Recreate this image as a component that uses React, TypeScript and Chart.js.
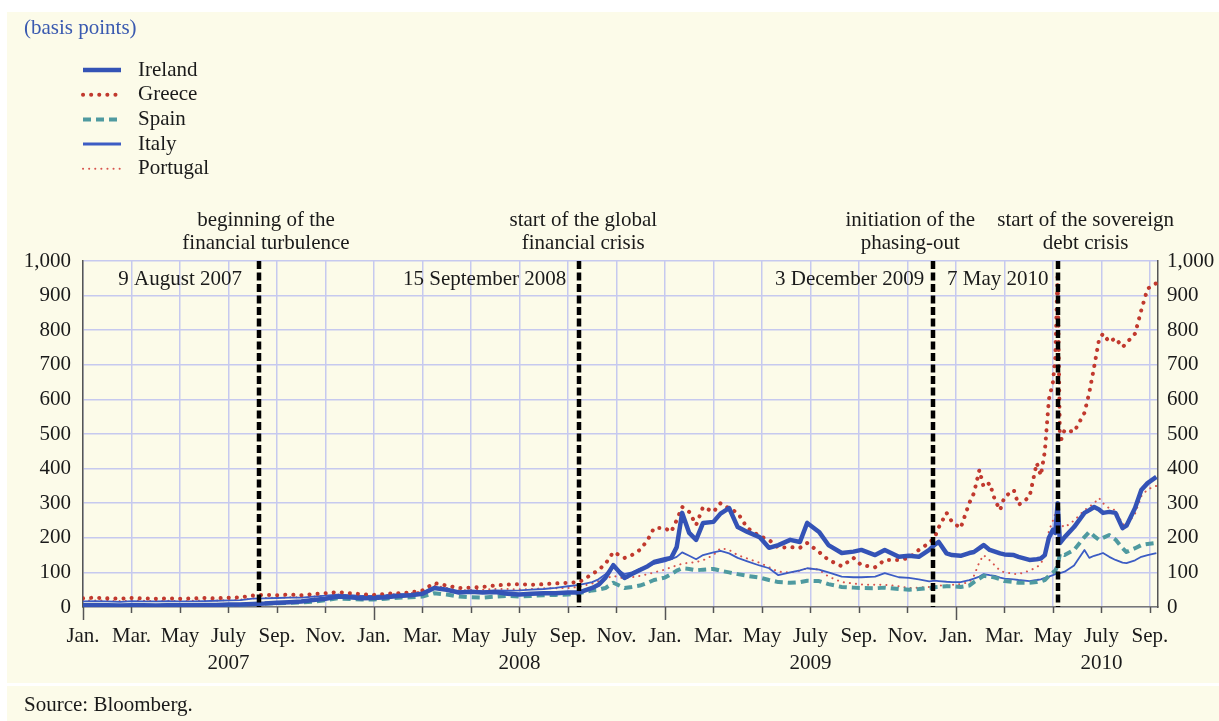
import React, { useEffect, useRef } from 'react';
import { Chart, registerables } from 'chart.js';

Chart.register(...registerables);

// ---------- DATA ----------
const dates = [
  '2007-01-01','2007-01-16','2007-02-01','2007-02-16','2007-03-01','2007-03-16','2007-04-01','2007-04-16',
  '2007-05-01','2007-05-16','2007-06-01','2007-06-16','2007-07-01','2007-07-16','2007-08-01','2007-08-16',
  '2007-09-01','2007-09-16','2007-10-01','2007-10-16','2007-11-01','2007-11-16','2007-12-01','2007-12-16',
  '2008-01-01','2008-01-16','2008-02-01','2008-02-16','2008-03-01','2008-03-16','2008-04-01','2008-04-16',
  '2008-05-01','2008-05-16','2008-06-01','2008-06-16','2008-07-01','2008-07-16','2008-08-01','2008-08-16',
  '2008-09-01','2008-09-15','2008-10-01','2008-10-09','2008-10-18','2008-10-28','2008-11-11','2008-11-20',
  '2008-11-30','2008-12-10','2008-12-18','2009-01-01','2009-01-09','2009-01-16','2009-01-23','2009-02-01',
  '2009-02-09','2009-02-17','2009-03-01','2009-03-10','2009-03-21','2009-04-01','2009-04-13','2009-04-28',
  '2009-05-10','2009-05-22','2009-06-06','2009-06-18','2009-06-27','2009-07-12','2009-07-24','2009-08-10',
  '2009-08-25','2009-09-04','2009-09-21','2009-10-03','2009-10-21','2009-11-03','2009-11-15','2009-11-28',
  '2009-12-05','2009-12-10','2009-12-20','2009-12-27','2010-01-07','2010-01-18','2010-01-24','2010-01-31',
  '2010-02-05','2010-02-12','2010-02-18','2010-02-24','2010-03-01','2010-03-13','2010-03-19','2010-04-02',
  '2010-04-11','2010-04-16','2010-04-21','2010-04-26','2010-05-01','2010-05-04','2010-05-07','2010-05-10',
  '2010-05-16','2010-05-28','2010-06-10','2010-06-16','2010-06-22','2010-06-28','2010-07-03','2010-07-11',
  '2010-07-19','2010-07-28','2010-08-02','2010-08-13','2010-08-21','2010-08-29','2010-09-09',
];

const ireland = [
  5,5,5,4,5,5,4,5, 5,5,6,6,7,7,9,10, 12,14,16,20,24,30,28,25,
  26,28,32,34,38,55,50,42, 44,42,43,38,36,38,40,40, 42,42,55,64,85,121,84,95,
  107,118,130,138,142,173,272,214, 194,243,246,270,286,231,217,202, 171,179,194,188,243,217,179,156,
  160,165,150,165,145,148,145,165, 180,188,155,150,148,156,159,170, 179,165,160,155,152,150,145,136,
  138,140,150,200,223,214,300,185, 202,231,272,280,289,282,272,275, 272,228,235,286,338,358,376,
];

const greece = [
  25,27,25,24,26,25,24,25, 24,25,26,25,27,28,33,35, 34,36,34,37,40,43,40,37,
  35,38,40,42,48,69,62,55, 56,58,62,65,66,64,66,68, 70,72,95,107,125,159,142,150,
  165,194,228,228,217,251,289,275, 237,289,275,300,285,272,228,205, 194,171,173,171,185,159,136,118,
  142,121,115,136,136,142,165,185, 202,230,272,246,228,300,329,396, 347,358,309,280,318,338,295,318,
  416,380,450,600,650,720,965,474, 512,506,561,620,694,772,790,766, 777,751,763,790,858,920,936,
];

const spain = [
  4,4,4,3,4,4,3,4, 4,4,5,5,6,6,8,10, 11,12,13,15,20,25,23,22,
  22,24,27,28,30,40,36,30, 28,27,30,32,30,32,34,35, 36,40,48,50,55,70,55,58,
  62,70,78,85,95,105,112,110, 106,108,110,105,100,95,90,85, 78,72,70,72,76,75,66,58,
  56,55,54,56,52,50,52,55, 57,58,60,60,58,62,72,82, 90,88,85,80,75,72,70,70,
  72,74,78,90,100,105,120,155, 150,165,202,217,205,194,200,208, 195,170,159,170,179,182,185,
];

const italy = [
  16,17,16,15,17,16,16,17, 16,16,17,18,19,20,24,25, 26,27,27,30,33,36,34,32,
  32,34,37,38,42,57,50,45, 46,45,48,47,48,50,52,55, 60,64,72,80,95,118,95,100,
  110,118,125,132,138,145,158,148, 138,150,158,162,155,142,132,120, 112,92,100,106,112,108,100,88,
  86,86,88,98,86,84,80,74, 76,75,73,72,72,78,82,88, 95,92,90,85,82,80,78,75,
  78,80,84,88,92,95,100,98, 102,120,165,142,148,152,156,145, 136,128,127,135,145,150,156,
];

const portugal = [
  18,19,18,17,19,18,17,18, 17,18,19,19,20,21,25,26, 27,28,28,30,33,36,34,32,
  32,34,38,40,45,62,55,48, 49,50,52,52,51,52,54,54, 55,58,68,75,82,90,82,86,
  90,95,100,108,115,120,125,128, 130,135,150,170,165,150,140,128, 115,102,100,105,112,108,88,72,
  68,65,64,64,60,55,56,58, 60,62,62,64,66,72,90,130, 150,135,120,105,100,96,95,105,
  115,125,150,220,250,270,300,240, 230,250,280,290,300,315,300,285, 280,240,235,270,320,340,350,
];

const seriesNames = ['Ireland', 'Greece', 'Spain', 'Italy', 'Portugal'];

const monthTickNames = ['Jan.', 'Mar.', 'May', 'July', 'Sep.', 'Nov.'];
const yearLabels = ['2007', '2008', '2009', '2010'];
const axisStart = '2007-01-01';
const axisEnd = '2010-09-11';

const eventDates = ['2007-08-09', '2008-09-15', '2009-12-03', '2010-05-07'];
const eventDateLabels = ['9 August 2007', '15 September 2008', '3 December 2009', '7 May 2010'];
const eventTitles = [
  ['beginning of the', 'financial turbulence'],
  ['start of the global', 'financial crisis'],
  ['initiation of the', 'phasing-out'],
  ['start of the sovereign', 'debt crisis'],
];

// ---------- STYLES ----------
const FONT = "'Liberation Serif', 'Times New Roman', serif";
const FS = 21;
const CREAM = '#fcfbe9';
const GRID = '#c6c9ef';
const TEXT = '#1a1a1a';
const eventTitleShift = [7, 4, -23, 28];
const eventLabelGap = [17, 13, 9, 9];

function toMonth(d: string): number {
  const [y, m, day] = d.split('-').map(Number);
  const dim = new Date(y, m, 0).getDate();
  return (y - 2007) * 12 + (m - 1) + (day - 1) / dim;
}

const seriesStyles = [
  { borderColor: '#3453b6', borderWidth: 4.5, borderDash: [], borderCapStyle: 'butt' },
  { borderColor: '#c1392e', borderWidth: 4, borderDash: [0.1, 8], borderCapStyle: 'round' },
  { borderColor: '#4f9aa0', borderWidth: 4, borderDash: [8, 5], borderCapStyle: 'butt' },
  { borderColor: '#3c5cc4', borderWidth: 1.8, borderDash: [], borderCapStyle: 'butt' },
  { borderColor: '#d8544e', borderWidth: 2, borderDash: [0.1, 6], borderCapStyle: 'round' },
];

const decorPlugin = {
  id: 'decor',
  beforeDraw(chart: any) {
    const ctx = chart.ctx;
    ctx.save();
    ctx.fillStyle = CREAM;
    ctx.fillRect(7, 12, 1212, 671);
    ctx.fillRect(7, 686, 1212, 35);
    ctx.restore();
  },
  afterDatasetsDraw(chart: any) {
    const ctx = chart.ctx;
    const x = chart.scales.x;
    const area = chart.chartArea;
    ctx.save();
    ctx.strokeStyle = '#000';
    ctx.lineWidth = 4.5;
    ctx.setLineDash([8, 3.5]);
    eventDates.forEach((d) => {
      const px = Math.round(x.getPixelForValue(toMonth(d)));
      ctx.beginPath();
      ctx.moveTo(px, area.top);
      ctx.lineTo(px, area.bottom);
      ctx.stroke();
    });
    ctx.restore();
  },
  afterDraw(chart: any) {
    const ctx = chart.ctx;
    const x = chart.scales.x;
    const area = chart.chartArea;
    ctx.save();
    // x tick marks
    ctx.strokeStyle = '#555';
    ctx.lineWidth = 1.5;
    for (let v = 0; v <= 44; v += 2) {
      const px = Math.round(x.getPixelForValue(v)) + 0.5;
      ctx.beginPath();
      ctx.moveTo(px, area.bottom);
      ctx.lineTo(px, area.bottom + (v % 12 === 0 ? 13 : 6));
      ctx.stroke();
    }
    // texts
    ctx.font = `${FS}px ${FONT}`;
    ctx.textBaseline = 'middle';
    ctx.fillStyle = '#3a5ab0';
    ctx.textAlign = 'left';
    ctx.fillText('(basis points)', 24, 28);
    ctx.fillStyle = TEXT;
    ctx.fillText('Source: Bloomberg.', 24, 705);

    // legend
    chart.data.datasets.forEach((ds: any, i: number) => {
      const y = 70 + i * 24.7;
      ctx.save();
      ctx.strokeStyle = ds.borderColor;
      ctx.lineWidth = i === 3 ? 3 : ds.borderWidth;
      ctx.setLineDash(ds.borderDash || []);
      ctx.lineCap = ds.borderCapStyle || 'butt';
      ctx.beginPath();
      ctx.moveTo(83, y);
      ctx.lineTo(121, y);
      ctx.stroke();
      ctx.restore();
      ctx.fillStyle = TEXT;
      ctx.textAlign = 'left';
      ctx.fillText(ds.label, 138, y);
    });

    // event annotations
    eventDates.forEach((d, i) => {
      const px = x.getPixelForValue(toMonth(d));
      ctx.textAlign = 'center';
      ctx.fillText(eventTitles[i][0], px + eventTitleShift[i], 220);
      ctx.fillText(eventTitles[i][1], px + eventTitleShift[i], 243);
      ctx.textAlign = 'right';
      ctx.fillText(eventDateLabels[i], px - eventLabelGap[i], 279);
    });
    ctx.restore();
  },
};

export default function App() {
  const ref = useRef<HTMLCanvasElement | null>(null);

  useEffect(() => {
    document.body.style.margin = '0';
    const canvas = ref.current;
    if (!canvas) return;
    const allSeries = [ireland, greece, spain, italy, portugal];
    const xs = dates.map(toMonth);
    const datasets = allSeries.map((vals, i) => ({
      label: seriesNames[i],
      data: vals.map((v, j) => ({ x: xs[j], y: v })),
      ...seriesStyles[i],
      borderJoinStyle: 'round',
      pointRadius: 0,
      tension: 0,
      fill: false,
    }));

    const tickFont = { family: FONT, size: FS, lineHeight: 1.3 };
    const chart = new Chart(canvas, {
      type: 'line',
      data: { datasets: datasets as any },
      options: {
        responsive: false,
        animation: false,
        events: [],
        layout: { padding: { top: 261, left: 0, right: 0, bottom: 0 } },
        plugins: { legend: { display: false }, title: { display: false }, tooltip: { enabled: false } },
        scales: {
          x: {
            type: 'linear',
            min: toMonth(axisStart),
            max: toMonth(axisEnd),
            afterBuildTicks: (s: any) => {
              const t = [];
              for (let v = 0; v <= 44; v += 2) t.push({ value: v });
              s.ticks = t;
            },
            afterFit: (s: any) => { s.height = 114; },
            grid: { color: GRID, lineWidth: 1.5, drawTicks: false },
            border: { color: '#777', width: 1.5 },
            ticks: {
              autoSkip: false,
              maxRotation: 0,
              minRotation: 0,
              padding: 16,
              color: TEXT,
              font: tickFont,
              callback: (v: any) => {
                const n = Number(v);
                const name = monthTickNames[(n % 12) / 2];
                if (n % 12 === 6) return [name, yearLabels[Math.floor(n / 12)]];
                return name;
              },
            },
          },
          y: {
            position: 'left',
            min: 0,
            max: 1000,
            afterFit: (s: any) => { s.width = 83; },
            grid: { color: GRID, lineWidth: 1.5, drawTicks: false },
            border: { color: '#555', width: 1.5 },
            ticks: { stepSize: 100, padding: 12, color: TEXT, font: tickFont },
          },
          y2: {
            position: 'right',
            min: 0,
            max: 1000,
            afterFit: (s: any) => { s.width = 61; },
            grid: { display: false, drawTicks: false },
            border: { color: '#555', width: 1.5 },
            ticks: { stepSize: 100, padding: 9, color: TEXT, font: tickFont },
          },
        },
      } as any,
      plugins: [decorPlugin],
    });
    return () => chart.destroy();
  }, []);

  return (
    <div style={{ position: 'fixed', left: 0, top: 0, width: 1219, height: 721, background: '#fff' }}>
      <canvas ref={ref} width={1219} height={721} style={{ width: 1219, height: 721, display: 'block' }} />
    </div>
  );
}
